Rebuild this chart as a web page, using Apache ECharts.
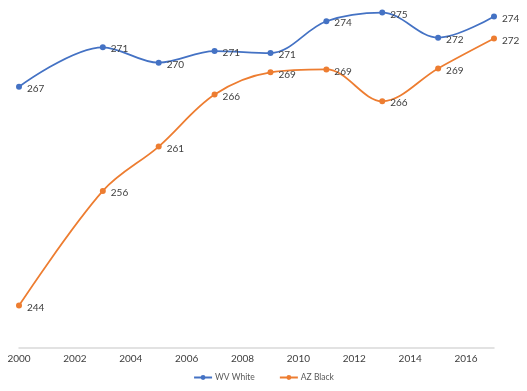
<!DOCTYPE html>
<html>
<head>
<meta charset="utf-8">
<script src="https://cdn.jsdelivr.net/npm/echarts@6/dist/echarts.min.js"></script>
<style>html,body{margin:0;padding:0;background:#fff;}#c{width:527px;height:391px;}</style>
</head>
<body>
<div id="c"></div>
<script>
const years = [2000, 2003, 2005, 2007, 2009, 2011, 2013, 2015, 2017];
const wvWhite = [267.1, 271.2, 269.6, 270.8, 270.6, 273.9, 274.8, 272.2, 274.4];
const azBlack = [244.4, 256.3, 260.9, 266.3, 268.6, 268.9, 265.6, 269.0, 272.1];
const seriesNames = ['WV White', 'AZ Black'];
const xTicks = [2000, 2002, 2004, 2006, 2008, 2010, 2012, 2014, 2016];

const chart = echarts.init(document.getElementById('c'), null, {renderer: 'canvas'});
const font = 'Lato, "Open Sans", sans-serif';
function mk(name, vals, color) {
  return {
    name: name,
    type: 'line',
    smooth: 0.35,
    data: years.map((y, i) => [y, vals[i]]),
    symbol: 'circle',
    symbolSize: 6,
    lineStyle: {color: color, width: 1.75},
    itemStyle: {color: color},
    label: {
      show: true,
      position: 'right',
      distance: 5,
      offset: [0, 2],
      color: '#404040',
      fontSize: 10,
      fontFamily: font,
      formatter: p => Math.round(p.value[1])
    },
    emphasis: {disabled: true},
    animation: false
  };
}
chart.setOption({
  animation: false,
  grid: {left: 19, right: 33, top: 1, bottom: 43, containLabel: false},
  xAxis: {
    type: 'value',
    min: 2000,
    max: 2017,
    interval: 2,
    axisLine: {show: true, lineStyle: {color: '#d9d9d9', width: 1.5}},
    axisTick: {show: false},
    splitLine: {show: false},
    axisLabel: {
      color: '#404040', fontSize: 10, fontFamily: font, margin: 6,
      showMaxLabel: false,
      formatter: v => xTicks.includes(v) ? String(v) : ''
    }
  },
  yAxis: {
    type: 'value',
    min: 240,
    max: 276,
    show: false,
    splitLine: {show: false}
  },
  legend: {
    bottom: 4,
    left: 'center',
    itemWidth: 18,
    itemHeight: 6,
    itemGap: 24,
    textStyle: {color: '#595959', fontSize: 8.5, fontFamily: font, padding: [0, 0, 0, -2]},
    data: seriesNames
  },
  series: [
    mk(seriesNames[0], wvWhite, '#4472C4'),
    mk(seriesNames[1], azBlack, '#ED7D31')
  ]
});
</script>
</body>
</html>
